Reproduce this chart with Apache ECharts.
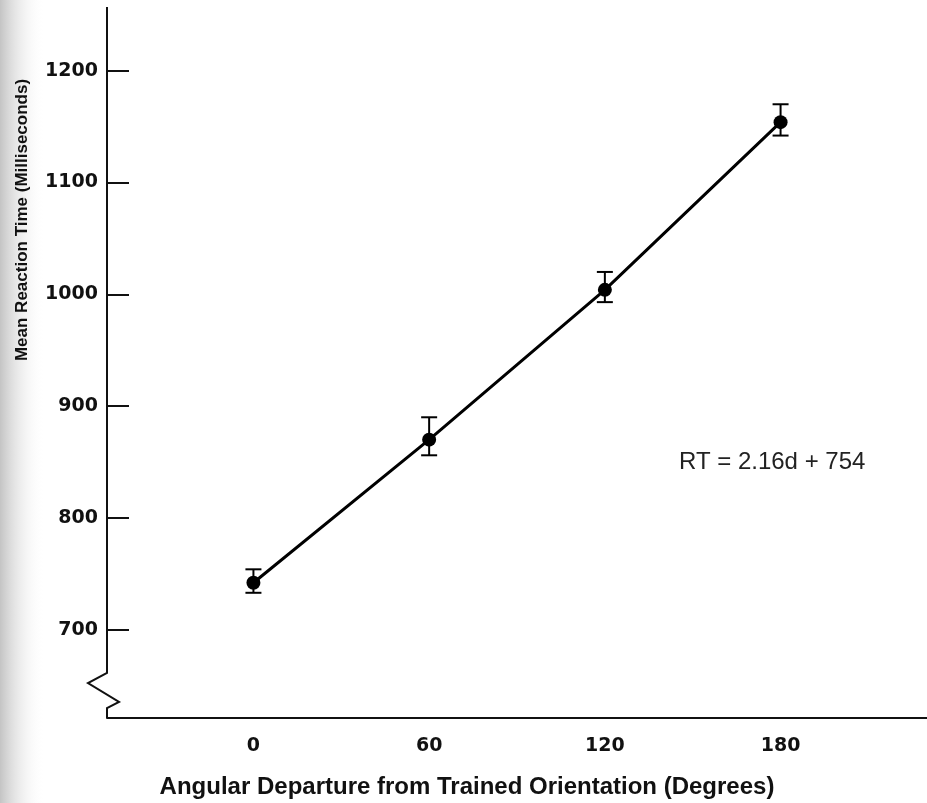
<!DOCTYPE html>
<html>
<head>
<meta charset="utf-8">
<script src="https://cdn.jsdelivr.net/npm/echarts@6/dist/echarts.min.js"></script>
<style>
  html, body { margin: 0; padding: 0; background: #fff; }
  #main { width: 927px; height: 803px; }
</style>
</head>
<body>
<div id="main"></div>
<script>
// data
var angles = [0, 60, 120, 180];
var meanRT = [742, 870, 1004, 1154];
var errLow = [733, 856, 993, 1142];
var errHigh = [754, 890, 1020, 1170];
var xTicks = [0, 60, 120, 180];
var yTicks = [700, 800, 900, 1000, 1100, 1200];
var fitText = 'RT = 2.16d + 754';

var points = angles.map(function (a, i) { return [a, meanRT[i]]; });
var bars = angles.map(function (a, i) { return [a, errLow[i], errHigh[i]]; });

var chart = echarts.init(document.getElementById('main'));

var plain = function (v) { return String(v); };

var option = {
    backgroundColor: '#fff',
    animation: false,
    grid: {
        left: 107,
        right: 0,
        top: 7,
        bottom: 85,
        outerBoundsMode: 'none',
        containLabel: false
    },
    xAxis: {
        type: 'value',
        min: -50,
        max: 230,
        splitLine: { show: false },
        axisLine: { onZero: false, lineStyle: { color: '#111', width: 2 } },
        axisTick: { show: false },
        axisLabel: {
            customValues: xTicks,
            formatter: plain,
            margin: 19,
            color: '#111',
            fontFamily: 'DejaVu Sans',
            fontWeight: 'bold',
            fontSize: 19
        },
        name: 'Angular Departure from Trained Orientation (Degrees)',
        nameLocation: 'middle',
        nameGap: 57,
        nameTextStyle: {
            color: '#111',
            fontFamily: 'Liberation Sans',
            fontWeight: 'bold',
            fontSize: 24,
            padding: [0, 100, 0, 0]
        }
    },
    yAxis: {
        type: 'value',
        min: 621,
        max: 1257,
        splitLine: { show: false },
        axisLine: { show: false, onZero: false },
        axisTick: {
            customValues: yTicks,
            inside: true,
            length: 22,
            lineStyle: { color: '#111', width: 2 }
        },
        axisLabel: {
            customValues: yTicks,
            formatter: plain,
            margin: 9,
            color: '#111',
            fontFamily: 'DejaVu Sans',
            fontWeight: 'bold',
            fontSize: 19
        }
    },
    series: [{
        name: 'mean',
        type: 'line',
        data: points,
        symbol: 'circle',
        symbolSize: 14,
        itemStyle: { color: '#000' },
        lineStyle: { color: '#000', width: 3 },
        z: 3
    }, {
        name: 'error',
        type: 'custom',
        data: bars,
        renderItem: function (params, api) {
            var x = api.value(0);
            var lo = api.coord([x, api.value(1)]);
            var hi = api.coord([x, api.value(2)]);
            var half = 8;
            var style = { stroke: '#000', lineWidth: 2 };
            return {
                type: 'group',
                children: [
                    { type: 'line', shape: { x1: lo[0], y1: lo[1], x2: hi[0], y2: hi[1] }, style: style },
                    { type: 'line', shape: { x1: lo[0] - half, y1: lo[1], x2: lo[0] + half, y2: lo[1] }, style: style },
                    { type: 'line', shape: { x1: hi[0] - half, y1: hi[1], x2: hi[0] + half, y2: hi[1] }, style: style }
                ]
            };
        },
        z: 2
    }]
};
chart.setOption(option);

// y axis line with the break zigzag near the bottom
var axTop = chart.convertToPixel({ gridIndex: 0 }, [-50, 1257]);
var axBot = chart.convertToPixel({ gridIndex: 0 }, [-50, 621]);
var ax = axTop[0];
chart.setOption({
    graphic: [{
        type: 'rect',
        left: 0,
        top: 0,
        z: -10,
        shape: { width: 45, height: 803 },
        style: {
            fill: new echarts.graphic.LinearGradient(0, 0, 1, 0, [
                { offset: 0, color: '#c4c4c4' },
                { offset: 1, color: 'rgba(255,255,255,0)' }
            ])
        }
    }, {
        type: 'polyline',
        z: 10,
        shape: {
            points: [
                [ax, axTop[1]],
                [ax, axBot[1] - 45],
                [ax - 19, axBot[1] - 35],
                [ax + 12, axBot[1] - 16],
                [ax, axBot[1] - 10],
                [ax, axBot[1]]
            ]
        },
        style: { stroke: '#111', lineWidth: 2, fill: null }
    }, {
        type: 'text',
        x: 22,
        y: 220,
        rotation: Math.PI / 2,
        style: {
            text: 'Mean Reaction Time (Milliseconds)',
            fill: '#111',
            font: 'bold 17px "Liberation Sans"',
            align: 'center',
            verticalAlign: 'middle'
        }
    }, {
        type: 'text',
        x: 679,
        y: 462,
        style: {
            text: fitText,
            fill: '#222',
            font: '24px "Liberation Sans"',
            align: 'left',
            verticalAlign: 'middle'
        }
    }]
});
</script>
</body>
</html>
